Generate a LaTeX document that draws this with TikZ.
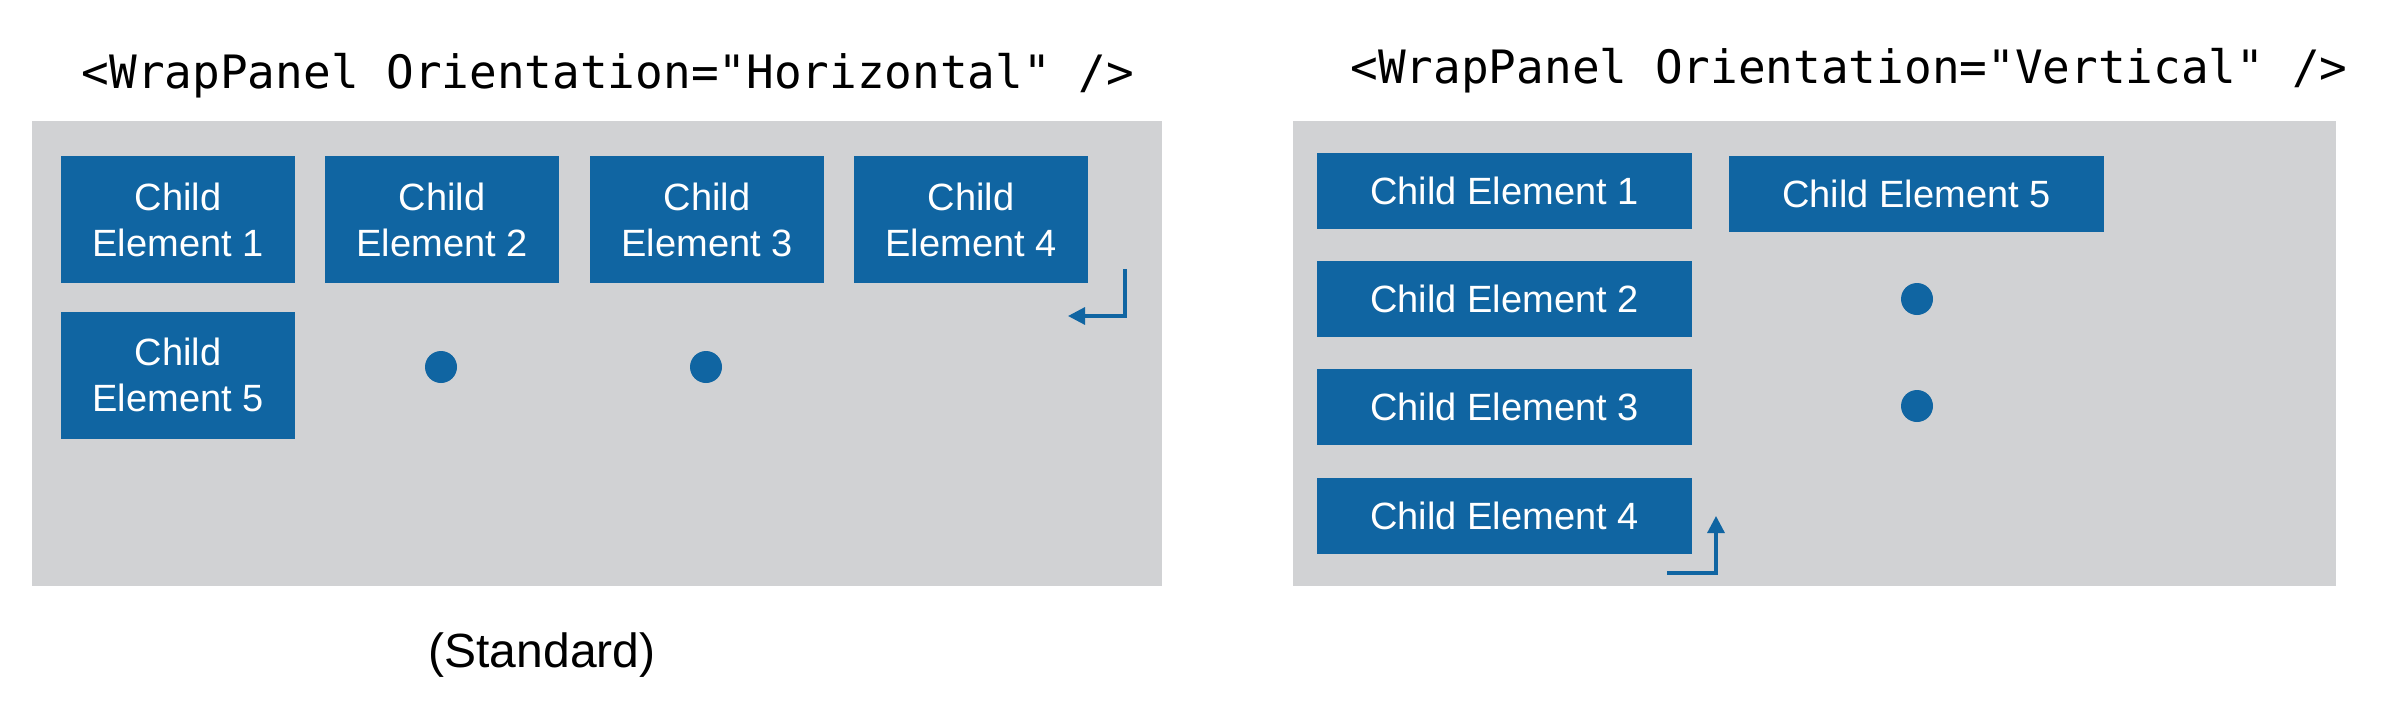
\documentclass[tikz,border=0pt]{standalone}
\usepackage{fontspec}
\setmainfont{Liberation Sans}
\newfontfamily\codefont{DejaVu Sans Mono}
\usetikzlibrary{arrows.meta}
\definecolor{wpblue}{HTML}{1065A2}
\definecolor{wpgray}{HTML}{D1D2D4}
\begin{document}
\begin{tikzpicture}[x=1pt,y=-1pt,
  panel/.style={fill=wpgray, draw=none},
  child/.style={fill=wpblue, draw=none, text=white, align=center,
    font=\fontsize{38}{46}\selectfont, inner sep=0pt},
  hchild/.style={child, minimum width=234pt, minimum height=127pt},
  vchild/.style={child, minimum width=375pt, minimum height=76pt},
  dot/.style={circle, fill=wpblue, minimum size=32pt, inner sep=0pt},
  flow/.style={draw=wpblue, line width=3.2pt, -{Triangle[length=17pt,width=17pt]}},
  title/.style={font=\codefont\fontsize{46}{55}\selectfont, anchor=base, inner sep=0pt}]
\useasboundingbox (0,0) rectangle (2388,702);
% panels
\path[panel] (32,121) rectangle (1162,586);
\path[panel] (1293,121) rectangle (2336,586);
% titles
\node[title] (tl) at (608,88) {<WrapPanel Orientation="Horizontal" />};
\node[title] (tr) at (1849,83) {<WrapPanel Orientation="Vertical" />};
\node[font=\fontsize{48}{58}\selectfont, inner sep=0pt] (std) at (542,655) {(Standard)};
% horizontal panel
\node[hchild] (h1) at (178,219.5) {Child\\Element 1};
\node[hchild] (h2) at (442,219.5) {Child\\Element 2};
\node[hchild] (h3) at (707,219.5) {Child\\Element 3};
\node[hchild] (h4) at (971,219.5) {Child\\Element 4};
\node[hchild] (h5) at (178,375) {Child\\Element 5};
\node[dot] (hd1) at (441,367) {};
\node[dot] (hd2) at (706,367) {};
\coordinate (la0) at (1125,269);
\coordinate (la1) at (1068,316);
\draw[flow] (la0) |- (la1);
% vertical panel
\node[vchild] (v1) at (1504.5,191) {Child Element 1};
\node[vchild] (v2) at (1504.5,299) {Child Element 2};
\node[vchild] (v3) at (1504.5,407) {Child Element 3};
\node[vchild] (v4) at (1504.5,516) {Child Element 4};
\node[vchild] (v5) at (1916.5,194) {Child Element 5};
\node[dot] (vd1) at (1917,299) {};
\node[dot] (vd2) at (1917,406) {};
\coordinate (ra0) at (1667,573);
\coordinate (ra1) at (1716,516);
\draw[flow] (ra0) -| (ra1);
\end{tikzpicture}
\end{document}
